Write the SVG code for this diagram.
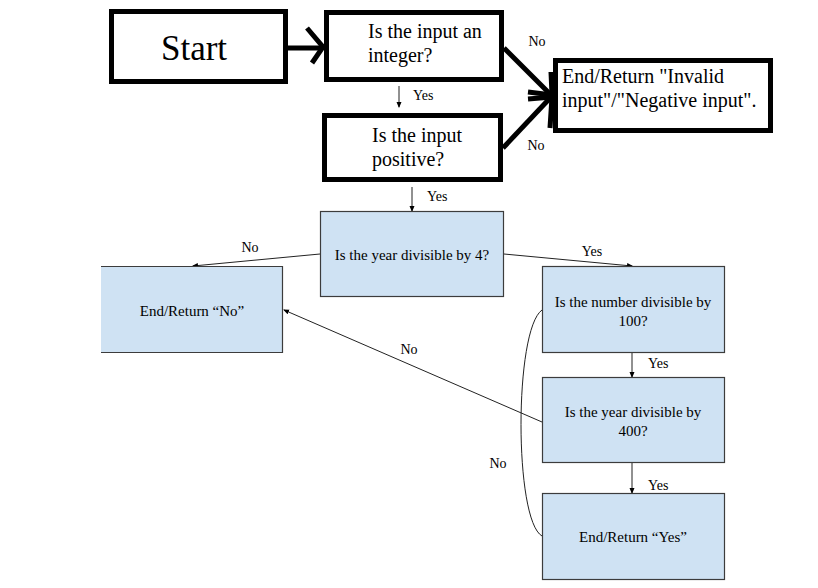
<svg xmlns="http://www.w3.org/2000/svg" width="818" height="588" viewBox="0 0 818 588">
<defs>
<style>
.bold{fill:#fff;stroke:#000;stroke-width:5}
.blue{fill:#cfe2f3;stroke:#3c3c3c;stroke-width:1.2}
text{font-family:'Liberation Serif','Times New Roman','DejaVu Serif',serif;fill:#000}
.big{font-size:20px}
.sm{font-size:15px}
.lbl{font-size:14px}
.thick{stroke:#000;stroke-width:5;fill:none;stroke-linecap:butt}
.thin{stroke:#222;stroke-width:1;fill:none}
</style>
<marker id="ah" markerWidth="6" markerHeight="6" refX="5" refY="3" orient="auto" markerUnits="userSpaceOnUse">
<path d="M0,0.5 L6,3 L0,5.5 Z" fill="#000"/>
</marker>
</defs>
<rect width="818" height="588" fill="#fff"/>
<g id="connectors" font-family="Liberation Serif, serif">
<line class="thick" x1="288" y1="48" x2="323" y2="48"/>
<polyline class="thick" points="307,28 323,47 312,63"/>
<line class="thick" x1="504" y1="48" x2="552" y2="96"/>
<line class="thick" x1="503" y1="148" x2="552" y2="96"/>
<polyline class="thick" points="551,72 552,95 528,92"/>
<polyline class="thick" points="528,99 552,97 550,128"/>
<line class="thin" x1="399" y1="86" x2="399" y2="107" marker-end="url(#ah)"/>
<line class="thin" x1="412" y1="187" x2="412" y2="211" marker-end="url(#ah)"/>
<line class="thin" x1="320" y1="254" x2="193" y2="266" marker-end="url(#ah)"/>
<line class="thin" x1="504" y1="254" x2="632" y2="266" marker-end="url(#ah)"/>
<line class="thin" x1="632" y1="353" x2="632" y2="377" marker-end="url(#ah)"/>
<line class="thin" x1="632" y1="463" x2="632" y2="493" marker-end="url(#ah)"/>
<line class="thin" x1="542" y1="422" x2="284" y2="310" marker-end="url(#ah)"/>
<path class="thin" d="M542,310 C514,330 514,520 542,536"/>
<text class="lbl" x="537" y="46" text-anchor="middle">No</text>
<text class="lbl" x="536" y="150" text-anchor="middle">No</text>
<text class="lbl" x="413" y="100">Yes</text>
<text class="lbl" x="427" y="201">Yes</text>
<text class="lbl" x="250" y="252" text-anchor="middle">No</text>
<text class="lbl" x="592" y="256" text-anchor="middle">Yes</text>
<text class="lbl" x="409" y="354" text-anchor="middle">No</text>
<text class="lbl" x="648" y="368">Yes</text>
<text class="lbl" x="648" y="490">Yes</text>
<text class="lbl" x="498" y="468" text-anchor="middle">No</text>
</g>
<g id="start">
<rect class="bold" x="111.5" y="11.5" width="174" height="70"/>
<text x="194" y="60" font-size="35" text-anchor="middle">Start</text>
</g>
<g id="is-integer">
<rect class="bold" x="326.5" y="12.5" width="175" height="67"/>
<text class="big" x="368" y="38">Is the input an</text>
<text class="big" x="368" y="62">integer?</text>
</g>
<g id="is-positive">
<rect class="bold" x="324.5" y="115.5" width="176" height="64"/>
<text class="big" x="372" y="142">Is the input</text>
<text class="big" x="372" y="166">positive?</text>
</g>
<g id="invalid">
<rect class="bold" x="555.5" y="60.5" width="215" height="70"/>
<text class="big" x="562" y="83">End/Return "Invalid</text>
<text class="big" x="562" y="107">input"/"Negative input".</text>
</g>
<g id="div4">
<rect class="blue" x="320.5" y="211.5" width="183" height="85"/>
<text class="sm" x="412" y="260" text-anchor="middle">Is the year divisible by 4?</text>
</g>
<g id="return-no">
<rect x="101" y="266.5" width="182" height="86" fill="#cfe2f3"/>
<path d="M101,266.5 H282.5 V352.5 H101" fill="none" stroke="#3c3c3c" stroke-width="1.2"/>
<text class="sm" x="192" y="316" text-anchor="middle">End/Return “No”</text>
</g>
<g id="div100">
<rect class="blue" x="542.5" y="266.5" width="182" height="86"/>
<text class="sm" x="633" y="307" text-anchor="middle">Is the number divisible by</text>
<text class="sm" x="633" y="326" text-anchor="middle">100?</text>
</g>
<g id="div400">
<rect class="blue" x="542.5" y="377.5" width="182" height="85"/>
<text class="sm" x="633" y="417" text-anchor="middle">Is the year divisible by</text>
<text class="sm" x="633" y="436" text-anchor="middle">400?</text>
</g>
<g id="return-yes">
<rect class="blue" x="542.5" y="493.5" width="182" height="86"/>
<text class="sm" x="633" y="542" text-anchor="middle">End/Return “Yes”</text>
</g>
</svg>
